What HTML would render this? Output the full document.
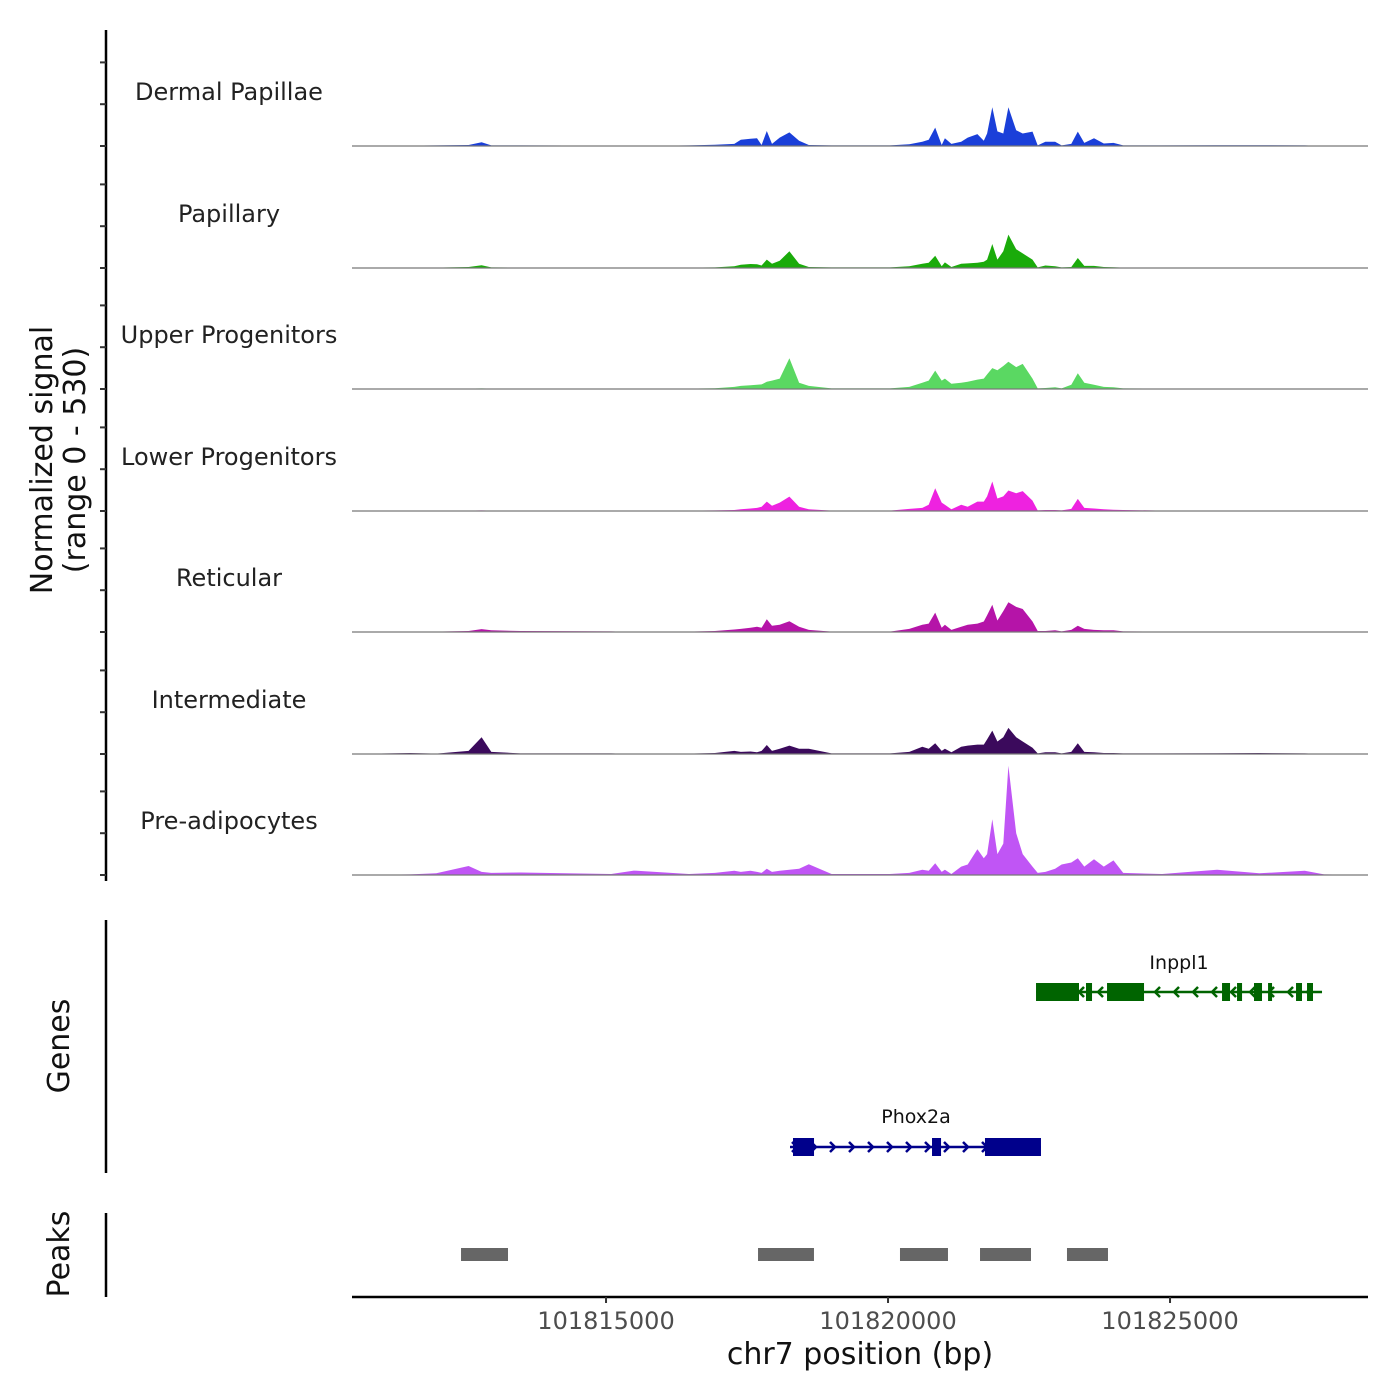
<!DOCTYPE html>
<html><head><meta charset="utf-8"><style>
html,body{margin:0;padding:0;background:#fff;}
svg{display:block;font-family:"DejaVu Sans","Liberation Sans",sans-serif;}
</style></head><body>
<svg id="chart" width="1400" height="1400" viewBox="0 0 1400 1400" xmlns="http://www.w3.org/2000/svg">
<rect width="1400" height="1400" fill="#fff"/>
<g id="tracks"></g>
<g id="yaxis"></g>
<text transform="translate(52,460) rotate(-90)" text-anchor="middle" font-size="30" fill="#111">Normalized signal</text>
<text transform="translate(85,460) rotate(-90)" text-anchor="middle" font-size="30" fill="#111">(range 0 - 530)</text>
<line x1="106" y1="920" x2="106" y2="1173" stroke="#000" stroke-width="2.5"/>
<text transform="translate(69,1046) rotate(-90)" text-anchor="middle" font-size="30" fill="#111">Genes</text>
<g id="genes"></g>
<line x1="106" y1="1213" x2="106" y2="1297" stroke="#000" stroke-width="2.5"/>
<text transform="translate(69,1254) rotate(-90)" text-anchor="middle" font-size="30" fill="#111">Peaks</text>
<g id="peaks"></g>
<line x1="352" y1="1297" x2="1368" y2="1297" stroke="#000" stroke-width="2.5"/>
<g id="xaxis"></g>
<text x="860" y="1364" text-anchor="middle" font-size="30" fill="#111">chr7 position (bp)</text>
</svg>
<script>
const trackNames = ["Dermal Papillae","Papillary","Upper Progenitors","Lower Progenitors","Reticular","Intermediate","Pre-adipocytes"];
const trackColors = ["#1a3fd9","#1aab0a","#5ad862","#ee22e0","#b514a8","#3b0a5c","#c055f5"];
const positions = [101810496,101811530,101811990,101812564,101812794,101812966,101813483,101815092,101815494,101816471,101816930,101817275,101817390,101817562,101817677,101817758,101817850,101817942,101818079,101818252,101818424,101818596,101818999,101820033,101820377,101820607,101820722,101820837,101820952,101821009,101821124,101821297,101821412,101821584,101821699,101821756,101821848,101821940,101822043,101822135,101822273,101822388,101822561,101822653,101822790,101822963,101823078,101823250,101823365,101823480,101823652,101823825,101823998,101824170,101824859,101825835,101826582,101827387,101827731,101828512];
const dermalPapillae = [0,2,3,5,18,3,3,2,0,3,6,10,30,35,37,5,72,10,40,65,25,5,3,3,8,20,30,88,5,37,10,20,40,57,25,60,185,70,60,185,75,60,69,3,20,20,3,10,69,15,37,12,15,3,3,4,4,3,0,0];
const papillary = [0,2,2,5,13,3,2,2,0,2,3,8,16,19,18,12,40,20,35,80,20,5,3,3,8,20,25,59,8,27,5,20,22,25,30,40,115,40,80,160,90,70,40,3,12,8,3,5,48,10,10,5,4,2,2,2,2,2,0,0];
const upperProgenitors = [0,2,2,2,3,2,2,2,0,2,4,10,15,18,20,22,35,40,50,147,30,15,3,3,10,30,40,88,40,50,25,30,35,45,50,70,100,90,110,130,105,120,50,3,5,8,3,20,75,30,20,10,8,3,2,2,2,2,0,0];
const lowerProgenitors = [0,2,2,2,3,2,2,2,0,2,3,5,8,12,15,20,45,25,40,69,20,8,2,2,10,15,30,109,40,30,8,30,20,45,45,70,141,60,70,98,85,95,50,3,5,5,3,10,58,15,12,8,6,5,2,2,2,2,0,0];
const reticular = [0,2,2,5,14,8,5,3,0,2,5,12,15,20,25,20,61,30,35,51,25,10,2,2,15,35,40,93,20,35,10,25,35,40,50,80,130,55,100,142,120,110,50,5,5,8,3,10,30,15,10,8,8,3,2,2,2,2,0,0];
const intermediate = [0,5,2,15,80,10,3,3,0,2,5,15,10,12,8,15,43,15,25,40,25,25,3,3,10,35,25,51,15,25,8,35,40,45,45,70,112,60,80,125,80,60,30,3,8,8,3,10,51,10,8,5,5,3,3,4,5,3,0,0];
const preAdipocytes = [0,3,8,43,15,10,12,5,21,5,10,20,15,20,15,10,30,15,20,25,30,51,5,5,10,25,20,56,15,25,5,40,50,123,80,100,267,100,150,523,200,100,40,10,15,30,50,60,80,40,75,40,70,10,5,25,8,20,3,0];
const trackValues = [dermalPapillae,papillary,upperProgenitors,lowerProgenitors,reticular,intermediate,preAdipocytes];
const yTicks = [0,200,400];
const xTicks = [101815000,101820000,101825000];
const xTickLabels = ["101815000","101820000","101825000"];
const inppl1Exons = [[101822624,101823386],[101823510,101823617],[101823883,101824539],[101825922,101826064],[101826188,101826277],[101826489,101826631],[101826738,101826808],[101827234,101827340],[101827429,101827535]];
const inppl1Span = [101822624,101827695];
const phox2aExons = [[101818315,101818688],[101820780,101820940],[101821719,101822712]];
const phox2aSpan = [101818262,101822712];
const peakRegions = [[101812429,101813262],[101817695,101818687],[101820212,101821063],[101821631,101822535],[101823173,101823900]];

const NS="http://www.w3.org/2000/svg";
function mk(tag,attrs,parent){const e=document.createElementNS(NS,tag);for(const k in attrs)e.setAttribute(k,attrs[k]);parent.appendChild(e);return e;}
function xScale(bp){return 352+(bp-101810496)*0.0564;}
const baselines=[146,268,389,511,632,754,875];
function yScale(v,t){return baselines[t]-v*41.8/200;}

const tg=document.getElementById('tracks');
trackNames.forEach((name,t)=>{
  const vals=trackValues[t];
  let d='M'+xScale(positions[0]).toFixed(1)+','+baselines[t];
  positions.forEach((p,i)=>{d+=' L'+xScale(p).toFixed(1)+','+yScale(vals[i],t).toFixed(1);});
  d+=' L'+xScale(positions[positions.length-1]).toFixed(1)+','+baselines[t]+' Z';
  const a=mk('path',{d:d,fill:trackColors[t],stroke:'none'},tg);
  
  
  const bl=mk('line',{x1:352,x2:1368,y1:baselines[t],y2:baselines[t],stroke:'#777','stroke-width':1.2},tg);
  
  
  const lb=mk('text',{x:229,y:baselines[t]-46,'text-anchor':'middle','font-size':24,fill:'#222'},tg);
  lb.textContent=name;
  
  
});

const ya=document.getElementById('yaxis');
const yl=mk('line',{x1:106,x2:106,y1:30,y2:881,stroke:'#000','stroke-width':2.5},ya);


trackNames.forEach((n,t)=>{yTicks.forEach(v=>{
  const y=yScale(v,t);
  const tk=mk('line',{x1:100,x2:106,y1:y,y2:y,stroke:'#333','stroke-width':2},ya);
  
  
});});

const xa=document.getElementById('xaxis');
xTicks.forEach((v,i)=>{
  const x=xScale(v);
  const tk=mk('line',{x1:x,x2:x,y1:1297,y2:1303,stroke:'#333','stroke-width':2},xa);
  
  
  const lb=mk('text',{x:x,y:1329,'text-anchor':'middle','font-size':24,fill:'#4d4d4d'},xa);
  lb.textContent=xTickLabels[i];
  
  
});

const gg=document.getElementById('genes');
function drawGene(name,span,exons,y,color,dir,labelX,labelY){
  const g=mk('g',{},gg);
  
  
  mk('line',{x1:xScale(span[0]),x2:xScale(span[1]),y1:y,y2:y,stroke:color,'stroke-width':2.5},g);
  const x0=xScale(span[0]),x1=xScale(span[1]);
  for(let x=x0+6;x<x1-4;x+=19){
    const c=dir>0?`M${x-4},${y-5} L${x+1},${y} L${x-4},${y+5}`:`M${x+4},${y-5} L${x-1},${y} L${x+4},${y+5}`;
    mk('path',{d:c,fill:'none',stroke:color,'stroke-width':2.5},g);
  }
  exons.forEach(e=>{mk('rect',{x:xScale(e[0]),y:y-9,width:Math.max(4,xScale(e[1])-xScale(e[0])),height:18,fill:color},g);});
  const t=mk('text',{x:labelX,y:labelY,'text-anchor':'middle','font-size':19,fill:'#111'},g);
  t.textContent=name;
}
drawGene('Inppl1',inppl1Span,inppl1Exons,992,'#006400',-1,1179,969);
drawGene('Phox2a',phox2aSpan,phox2aExons,1147,'#00008b',1,916,1123);

const pg=document.getElementById('peaks');
peakRegions.forEach(p=>{
  const r=mk('rect',{x:xScale(p[0]),y:1248,width:xScale(p[1])-xScale(p[0]),height:13,fill:'#666'},pg);
  
  
});
</script>
</body></html>
